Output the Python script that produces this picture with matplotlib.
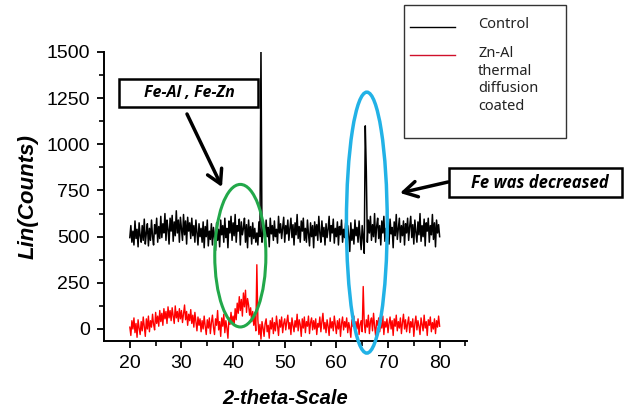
import numpy as np
import matplotlib
matplotlib.use('Agg')
import matplotlib.pyplot as plt
from matplotlib.patches import Ellipse, Rectangle, FancyArrowPatch
from matplotlib.lines import Line2D

# 2-theta grid (deg), step 0.2
two_theta = np.round(np.arange(20.0, 80.01, 0.2), 1)

# Control sample counts
control = [
    495, 560, 470, 530, 455, 585, 490, 540, 445, 575,
    505, 470, 560, 480, 595, 460, 520, 570, 450, 545,
    480, 590, 500, 455, 565, 515, 600, 470, 555, 490,
    610, 495, 570, 520, 625, 480, 590, 540, 460, 600,
    530, 615, 475, 580, 505, 640, 520, 590, 470, 605,
    545, 480, 620, 510, 585, 460, 605, 530, 575, 490,
    600, 505, 560, 470, 590, 525, 455, 570, 500, 545,
    470, 580, 440, 555, 500, 590, 450, 530, 485, 570,
    455, 550, 500, 425, 575, 480, 540, 445, 590, 510,
    560, 470, 600, 495, 545, 440, 585, 520, 610, 480,
    575, 505, 620, 470, 560, 530, 595, 455, 580, 510,
    545, 600, 470, 565, 440, 590, 500, 555, 460, 575,
    490, 545, 470, 520, 455, 580, 500, 1520, 470, 560,
    520, 470, 590, 500, 550, 445, 600, 515, 560, 480,
    585, 500, 540, 465, 610, 520, 570, 490, 545, 605,
    470, 560, 515, 590, 480, 545, 600, 495, 565, 455,
    575, 510, 620, 490, 555, 470, 585, 530, 600, 480,
    545, 470, 590, 515, 450, 575, 500, 560, 440, 580,
    505, 565, 480, 610, 520, 470, 585, 500, 550, 455,
    570, 495, 540, 610, 475, 560, 520, 595, 465, 545,
    500, 580, 455, 555, 510, 590, 470, 540, 495, 575,
    445, 560, 500, 420, 575, 480, 540, 460, 590, 505,
    550, 470, 585, 500, 430, 560, 490, 410, 1100, 855,
    470, 590, 520, 610, 480, 565, 500, 625, 470, 555,
    600, 490, 560, 455, 585, 520, 610, 475, 545, 500,
    575, 460, 595, 515, 550, 440, 580, 505, 620, 485,
    545, 600, 470, 560, 505, 585, 455, 570, 520, 600,
    480, 555, 610, 495, 565, 460, 590, 525, 470, 580,
    510, 625, 475, 560, 500, 595, 450, 575, 530, 600,
    470, 560, 510, 620, 485, 575, 445, 590, 520, 565,
    500,
]

# Zn-Al thermal diffusion coated sample counts
coated = [
    10, -35, 45, 0, 60, -20, 30, -45, 50, 5,
    -30, 40, -10, 65, 15, -40, 55, 0, 70, -15,
    45, 10, 80, 25, -5, 90, 30, 70, 15, 100,
    40, 85, 20, 110, 55, 95, 30, 120, 60, 100,
    45, 115, 70, 30, 125, 60, 95, 40, 110, 55,
    100, 35, 85, 130, 50, 95, 20, 80, 45, 105,
    30, 75, 10, 90, 40, -10, 65, 20, 55, -15,
    45, 0, 70, 15, -30, 50, 5, 60, -25, 35,
    75, 10, -30, 55, 20, 100, -5, 40, -40, 60,
    15, 80, -20, 45, 5, -50, 60, 25, 90, 30,
    70, 20, 110, 50, 140, 85, 175, 100, 160, 70,
    195, 120, 210, 90, 165, 130, 75, 115, 40, 95,
    20, 70, -10, 348, 50, -30, 25, -55, 40, 5,
    -40, 30, 55, -15, 20, -50, 45, 0, 60, -25,
    35, -10, 70, 15, -35, 50, 10, 65, -20, 30,
    55, -5, 40, 75, 0, 35, -30, 60, 20, -15,
    45, 10, 80, -10, 50, 25, -40, 55, 5, 65,
    -20, 40, 15, 70, -25, 35, 60, -5, 45, 0,
    55, -30, 30, 10, 65, -15, 40, 85, 0, 35,
    -20, 50, 15, -35, 60, 5, 40, -10, 70, 20,
    -25, 45, 0, 55, -40, 30, 65, -5, 40, 10,
    60, -20, 35, 5, -45, 50, 15, 70, -10, 40,
    0, 55, -30, 25, 45, -15, 230, 30, -20, 50,
    10, 75, -25, 40, 60, -10, 85, 15, -35, 45,
    20, 60, -15, 35, 5, 70, -30, 40, 10, 55,
    -20, 30, 65, 0, 45, -35, 55, 15, 75, -10,
    40, 5, 60, -25, 35, 80, 0, 50, -15, 30,
    65, -20, 40, 10, 55, -40, 30, 70, -5, 45,
    15, -30, 60, 25, -10, 75, 5, 40, -35, 50,
    20, 65, -15, 35, 0, 55, -25, 45, 10, 70,
    15,
]

W, H = 629, 416


def fx(px):
    return px / W


def fy(py):
    return 1 - py / H


fig = plt.figure(figsize=(W / 100, H / 100), dpi=100)
ax = fig.add_axes([fx(104), fy(341), fx(467) - fx(104), fy(52) - fy(341)])

ax.plot(two_theta, control, color='black', lw=1.1)
ax.plot(two_theta, coated, color='red', lw=1.0)

ax.set_xlim(15, 85.3)
ax.set_ylim(-65, 1500)
ax.set_xticks([20, 30, 40, 50, 60, 70, 80])
ax.set_xticks(np.arange(25, 86, 10), minor=True)
ax.set_yticks([0, 250, 500, 750, 1000, 1250, 1500])
ax.set_yticks(np.arange(125, 1500, 250), minor=True)
for s in ['top', 'right']:
    ax.spines[s].set_visible(False)
for s in ['left', 'bottom']:
    ax.spines[s].set_linewidth(1.4)
ax.tick_params(which='major', length=5, width=1.3, labelsize=14, pad=5)
ax.tick_params(which='minor', length=3.5, width=1.2)
for lab in ax.get_xticklabels() + ax.get_yticklabels():
    lab.set_family('Liberation Sans')

ax.set_xlabel('2-theta-Scale', family='Liberation Sans', fontsize=14.5,
              fontweight='bold', style='italic', labelpad=12)
ax.set_ylabel('Lin(Counts)', family='Liberation Sans', fontsize=16,
              fontweight='bold', style='italic', labelpad=6)

# highlight ellipses
ax.add_patch(Ellipse((41.4, 397), 9.9, 772, fill=False, edgecolor='#22a84a',
                     lw=2.2, clip_on=False, zorder=3))
ax.add_patch(Ellipse((65.9, 576), 7.9, 1413, fill=False, edgecolor='#22b2e6',
                     lw=2.5, clip_on=False, zorder=3))

# annotation boxes
fig.patches.append(Rectangle((fx(119), fy(107)), (258 - 119) / W, 28 / H,
                             transform=fig.transFigure, facecolor='white',
                             edgecolor='black', lw=1.8))
fig.text(fx(189), fy(93), 'Fe-Al , Fe-Zn', ha='center', va='center',
         family='Open Sans', fontsize=11.5, fontweight='bold', style='italic')
fig.patches.append(Rectangle((fx(449), fy(197)), (622 - 449) / W, 29 / H,
                             transform=fig.transFigure, facecolor='white',
                             edgecolor='black', lw=1.8))
fig.text(fx(540), fy(182.5), 'Fe was decreased', ha='center', va='center',
         family='Open Sans', fontsize=12, fontweight='bold', style='italic')

arrow = dict(arrowstyle='->, head_length=0.7, head_width=0.4', lw=2.5,
             color='black', shrinkA=0, shrinkB=0)
fig.add_artist(FancyArrowPatch((fx(187), fy(114)), (fx(222), fy(187)),
                               transform=fig.transFigure, mutation_scale=14,
                               **arrow))
fig.add_artist(FancyArrowPatch((fx(448), fy(182)), (fx(400), fy(193)),
                               transform=fig.transFigure, mutation_scale=14,
                               **arrow))

# legend
fig.patches.append(Rectangle((fx(404), fy(138)), (566 - 404) / W, 133 / H,
                             transform=fig.transFigure, facecolor='white',
                             edgecolor='#333333', lw=1.0))
fig.add_artist(Line2D([fx(410), fx(455)], [fy(27), fy(27)], color='black',
                      lw=1.0, transform=fig.transFigure))
fig.add_artist(Line2D([fx(410), fx(455)], [fy(55), fy(55)], color='#d0102a',
                      lw=1.0, transform=fig.transFigure))
fig.text(fx(478), fy(25), 'Control', ha='left', va='center',
         family='Noto Sans', fontsize=10.5, color='#222222')
fig.text(fx(478), fy(46), 'Zn-Al\nthermal\ndiffusion\ncoated', ha='left',
         va='top', family='Noto Sans', fontsize=10.5, color='#222222',
         linespacing=1.25)

fig.savefig('out.png', dpi=100)
